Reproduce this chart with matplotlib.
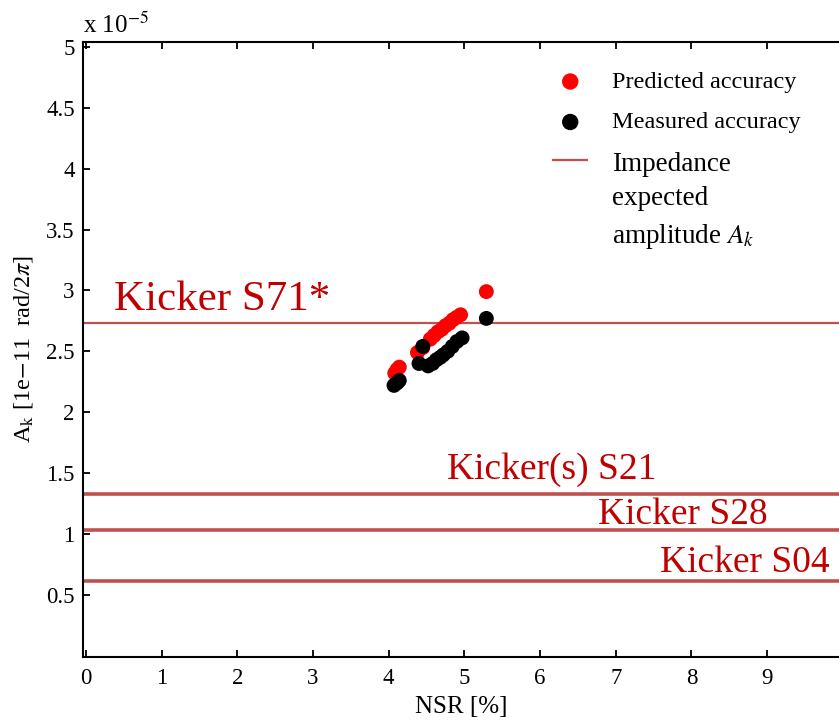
import numpy as np
import matplotlib
matplotlib.use('Agg')
import matplotlib.pyplot as plt

plt.rcParams['font.family'] = ['Liberation Serif', 'DejaVu Serif']
plt.rcParams['mathtext.fontset'] = 'stix'

# NSR [%] and amplitude (units of 1e-5)
pred_nsr = [4.08, 4.11, 4.14, 4.38, 4.45, 4.55, 4.60, 4.65, 4.70, 4.75, 4.80, 4.85, 4.90, 4.95, 5.29]
pred_amp = [2.32, 2.35, 2.37, 2.49, 2.53, 2.60, 2.63, 2.66, 2.68, 2.71, 2.73, 2.76, 2.78, 2.80, 2.99]

meas_nsr = [4.07, 4.11, 4.14, 4.40, 4.45, 4.52, 4.58, 4.63, 4.68, 4.72, 4.78, 4.84, 4.90, 4.97, 5.29]
meas_amp = [2.22, 2.24, 2.26, 2.40, 2.54, 2.38, 2.40, 2.43, 2.45, 2.47, 2.50, 2.54, 2.58, 2.61, 2.77]

# impedance expected amplitudes (units of 1e-5)
kicker_names = ['Kicker S71*', 'Kicker(s) S21', 'Kicker S28', 'Kicker S04']
kicker_amp = [2.73, 1.33, 1.03, 0.61]

yticks = [0.5, 1, 1.5, 2, 2.5, 3, 3.5, 4, 4.5, 5]
ytick_labels = ['0.5', '1', '1.5', '2', '2.5', '3', '3.5', '4', '4.5', '5']
xticks = list(range(10))

fig = plt.figure(figsize=(8.39, 7.21), dpi=100)
ax = fig.add_axes([0.0989, 0.0888, 0.9011, 0.853])

line_col = '#c0504d'
text_col = '#c00000'

# horizontal lines
for i, (name, a) in enumerate(zip(kicker_names, kicker_amp)):
    ax.axhline(a, color=line_col, lw=1.6 if i == 0 else 2.6,
               label='Impedance\nexpected\namplitude $A_k$' if i == 0 else None, zorder=1)

ax.scatter(pred_nsr, pred_amp, s=115, color='red', edgecolors='none',
           label='Predicted accuracy', zorder=2)
ax.scatter(meas_nsr, meas_amp, s=115, color='black', edgecolors='none',
           label='Measured accuracy', zorder=3)

# kicker labels
label_pos = [(0.37, 2.92, 31), (4.77, 1.53, 27), (6.77, 1.16, 27), (7.59, 0.76, 27)]
for name, (x, y, fs) in zip(kicker_names, label_pos):
    ax.text(x, y, name, color=text_col, fontsize=fs, va='center', ha='left')

ax.set_xlim(-0.04, 9.95)
ax.set_ylim(-0.01, 5.04)
ax.set_xticks(xticks)
ax.set_yticks(yticks)
ax.set_yticklabels(ytick_labels)
ax.tick_params(direction='in', length=5, labelsize=16.5, top=True, right=False, width=1.3)
ax.tick_params(axis='y', pad=6)
ax.tick_params(axis='x', pad=8)
for s in ax.spines.values():
    s.set_linewidth(1.5)
ax.spines['right'].set_visible(False)

ax.set_xlabel('NSR [%]', fontsize=18, labelpad=5)
ax.set_ylabel(r'A$_{\mathrm{k}}$ [1e$-$11  rad/2$\pi$]', fontsize=17.5, labelpad=8)
fig.text(0.099, 1 - 33 / 721, r'x 10$^{-5}$', fontsize=18, ha='left', va='baseline')

# legend: markers first, line last
handles, labels = ax.get_legend_handles_labels()
order = [1, 2, 0]
leg = ax.legend([handles[i] for i in order], [labels[i] for i in order],
                loc='upper left', bbox_to_anchor=(0.622, 0.953), frameon=False,
                fontsize=17.5, handlelength=1.4, handletextpad=1.0, borderpad=0,
                borderaxespad=0, markerscale=1.1, labelspacing=0.76)
leg.get_texts()[2].set_fontsize(19.5)
leg.get_texts()[2].set_linespacing(1.5)
# line handle sits next to the first line of its label
for col in leg._legend_handle_box.get_children():
    for item in col.get_children():
        if 'Impedance' in item.get_children()[1].get_children()[0].get_text():
            item.align = 'top'

fig.savefig('out.png', dpi=100)
